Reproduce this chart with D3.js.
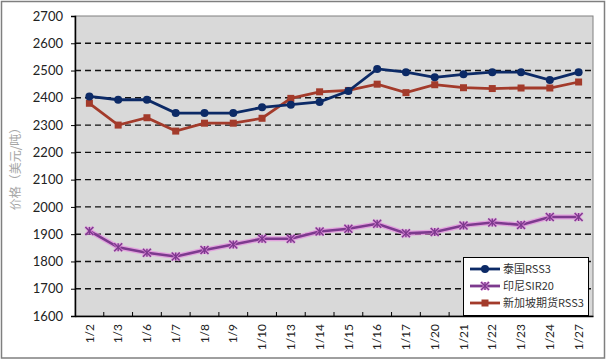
<!DOCTYPE html>
<html><head><meta charset="utf-8">
<script src="https://cdn.jsdelivr.net/npm/d3@7"></script>
<style>body{margin:0;background:#fff}svg{display:block}</style>
</head><body><svg id="c" width="608" height="361"></svg>
<script>
const categories = ["1/2","1/3","1/6","1/7","1/8","1/9","1/10","1/13","1/14","1/15","1/16","1/17","1/20","1/21","1/22","1/23","1/24","1/27"];
const thaiRSS3 = [2405,2393,2393,2344,2344,2344,2365,2375,2385,2425,2506,2494,2475,2486,2494,2494,2465,2494];
const indoSIR20 = [1912,1852,1832,1818,1842,1862,1883,1883,1910,1920,1938,1903,1908,1932,1943,1934,1963,1963];
const sgxRSS3 = [2380,2300,2327,2278,2307,2307,2325,2398,2422,2427,2450,2419,2448,2437,2434,2436,2436,2458];
const yTicks = [1600,1700,1800,1900,2000,2100,2200,2300,2400,2500,2600,2700];
const seriesNames = ["泰国RSS3","印尼SIR20","新加坡期货RSS3"];
const yTitle = "价格（美元/吨）";

const svg = d3.select("#c");
const L = 75, R = 593, T = 16, B = 316;
// outer frame
svg.append("rect").attr("x",1.5).attr("y",1.5).attr("width",603).attr("height",356.5)
  .attr("fill","#fff").attr("stroke","#7f7f7f").attr("stroke-width",1.5);

const x = d3.scaleBand().domain(categories).range([L,R]);
const y = d3.scaleLinear().domain([1600,2700]).range([B,T]);

svg.append("rect").attr("x",L).attr("y",T).attr("width",R-L).attr("height",B-T)
  .attr("fill","#d9d9d9").attr("stroke","#808080").attr("stroke-width",1);

// gridlines
svg.append("g").selectAll("line").data(yTicks.filter(v=>v>1600 && v<2700)).join("line")
  .attr("x1",L).attr("x2",R).attr("y1",d=>y(d)).attr("y2",d=>y(d))
  .attr("stroke","#111").attr("stroke-width",1.4).attr("stroke-dasharray","6,4");

// y axis
const yAx = svg.append("g").attr("transform",`translate(${L},0)`)
  .call(d3.axisLeft(y).tickValues(yTicks).tickSize(4).tickPadding(8).tickFormat(d3.format("d")));
yAx.select(".domain").attr("stroke","#000").attr("stroke-width",1.5);
yAx.selectAll(".tick line").attr("stroke","#000");
yAx.selectAll("text").attr("font-family","Lato, 'Open Sans', sans-serif").attr("font-size",13).attr("fill","#222");

// x axis
const xAx = svg.append("g").attr("transform",`translate(0,${B})`)
  .call(d3.axisBottom(x).tickSize(0).tickPadding(0));
xAx.select(".domain").attr("stroke","#000").attr("stroke-width",1.5);
xAx.selectAll("text").attr("font-family","Lato, 'Open Sans', sans-serif").attr("font-size",12).attr("fill","#222")
  .attr("transform","rotate(-90)").attr("text-anchor","end").attr("dy","0.35em").attr("x",-8).attr("y",0);
// inside ticks at band boundaries
svg.append("g").selectAll("line").data(categories.slice(1)).join("line")
  .attr("x1",d=>x(d)).attr("x2",d=>x(d)).attr("y1",B).attr("y2",B-4)
  .attr("stroke","#000").attr("stroke-width",1);

// y title
svg.append("text").attr("transform",`translate(20,${(T+B)/2}) rotate(-90)`)
  .attr("text-anchor","middle").attr("font-family","'Noto Sans CJK SC', sans-serif")
  .attr("font-size",12).attr("fill","#a6a6a6").text(yTitle);

const cx = d => x(d) + x.bandwidth()/2;
const line = d3.line().x((v,i)=>cx(categories[i])).y(v=>y(v));

// purple series with halo
const purple = "#7d3a8e", halo = "#e58ae0";
svg.append("path").datum(indoSIR20).attr("d",line).attr("fill","none").attr("stroke",halo).attr("stroke-width",5).attr("opacity",0.7);
svg.append("path").datum(indoSIR20).attr("d",line).attr("fill","none").attr("stroke",purple).attr("stroke-width",2.6);
function star(g, px, py, s){
  [[-s,-s,s,s],[-s,s,s,-s],[0,-s,0,s]].forEach(l=>{
    g.append("line").attr("x1",px+l[0]).attr("y1",py+l[1]).attr("x2",px+l[2]).attr("y2",py+l[3])
      .attr("stroke",halo).attr("stroke-width",3).attr("opacity",0.7);
  });
  [[-s,-s,s,s],[-s,s,s,-s],[0,-s,0,s]].forEach(l=>{
    g.append("line").attr("x1",px+l[0]).attr("y1",py+l[1]).attr("x2",px+l[2]).attr("y2",py+l[3])
      .attr("stroke",purple).attr("stroke-width",1.4);
  });
}
const gP = svg.append("g");
indoSIR20.forEach((v,i)=>star(gP, cx(categories[i]), y(v), 4));

// red series
const red = "#a33b2b";
svg.append("path").datum(sgxRSS3).attr("d",line).attr("fill","none").attr("stroke",red).attr("stroke-width",2.8);
svg.append("g").selectAll("rect").data(sgxRSS3).join("rect")
  .attr("x",(v,i)=>cx(categories[i])-3.5).attr("y",v=>y(v)-3.5).attr("width",7).attr("height",7)
  .attr("fill",red);

// navy series
const navy = "#0c2a66";
svg.append("path").datum(thaiRSS3).attr("d",line).attr("fill","none").attr("stroke",navy).attr("stroke-width",2.8);
svg.append("g").selectAll("circle").data(thaiRSS3).join("circle")
  .attr("cx",(v,i)=>cx(categories[i])).attr("cy",v=>y(v)).attr("r",4).attr("fill",navy);

// legend
const lg = svg.append("g");
lg.append("rect").attr("x",463.5).attr("y",257.5).attr("width",125).attr("height",58)
  .attr("fill","#fff").attr("stroke","#000").attr("stroke-width",1);
const colors = [navy, purple, red];
seriesNames.forEach((n,i)=>{
  const ly = 269 + i*17;
  lg.append("line").attr("x1",470).attr("x2",500).attr("y1",ly).attr("y2",ly).attr("stroke",colors[i]).attr("stroke-width",2.8);
  if(i===0) lg.append("circle").attr("cx",485).attr("cy",ly).attr("r",4).attr("fill",navy);
  if(i===1) star(lg,485,ly,4);
  if(i===2) lg.append("rect").attr("x",481.5).attr("y",ly-3.5).attr("width",7).attr("height",7).attr("fill",red);
  lg.append("text").attr("x",503).attr("y",ly).attr("dy","0.35em")
    .attr("font-family","'Noto Sans CJK SC', sans-serif").attr("font-size",11).attr("fill","#333").text(n);
});
</script></body></html>
